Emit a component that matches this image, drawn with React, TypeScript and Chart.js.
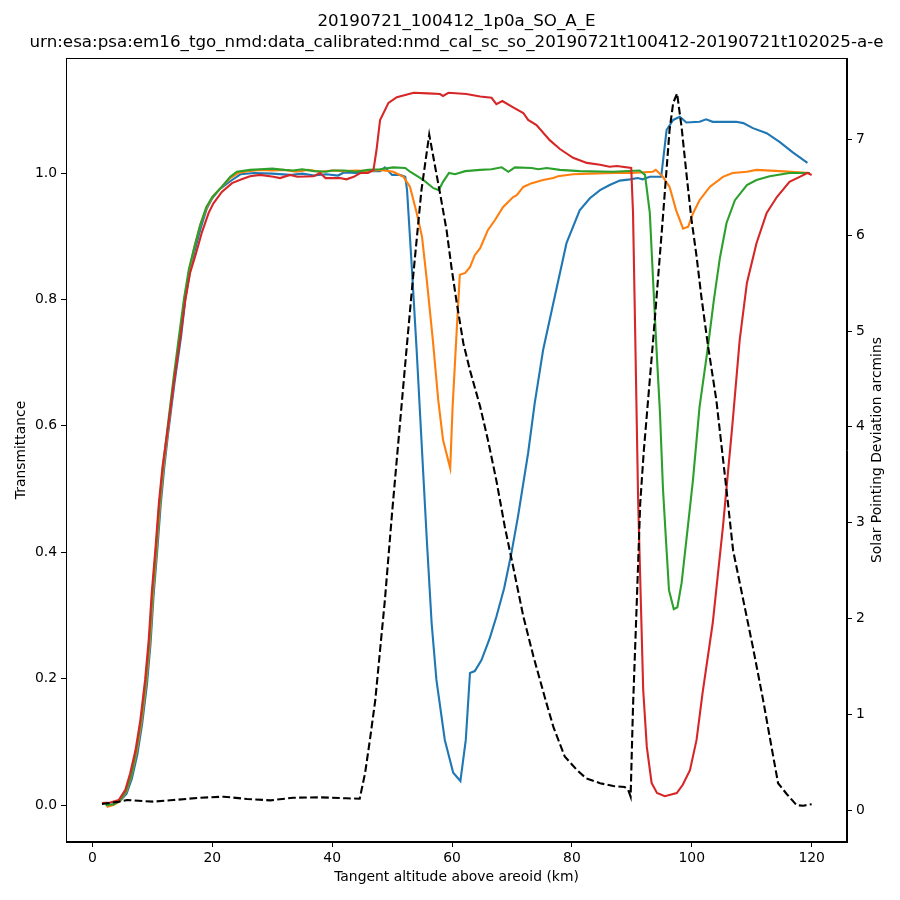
import React, { useEffect, useRef } from 'react';
import { Chart, registerables } from 'chart.js';

Chart.register(...registerables);

const titleLines = [
  '20190721_100412_1p0a_SO_A_E',
  'urn:esa:psa:em16_tgo_nmd:data_calibrated:nmd_cal_sc_so_20190721t100412-20190721t102025-a-e',
];

const xTicks = [0, 20, 40, 60, 80, 100, 120];
const yTicks = [0, 0.2, 0.4, 0.6, 0.8, 1.0];
const y2Ticks = [0, 1, 2, 3, 4, 5, 6, 7];

// transmittance, bin 1 (blue)
const blueAlt = [2.3, 3.5, 4.6, 5.7, 6.6, 7.5, 8.3, 9.1, 9.7, 10.2, 10.8, 11.4, 12.0, 12.6, 13.7, 14.8, 15.5, 16.3, 17.1, 18.1, 19.1, 20, 21.2, 23, 24.7, 27, 30, 33, 35, 37, 39, 41, 42, 44, 46, 48, 48.8, 50, 51.3, 52.2, 52.5, 53.3, 54.1, 54.9, 55.8, 56.6, 57.4, 58.8, 60.2, 61.4, 62.3, 63, 63.8, 64.9, 66.3, 67.4, 68.7, 69.9, 71, 72.7, 73.8, 75.2, 76.9, 79.1, 81.3, 83, 84.7, 86.3, 88, 89.7, 91, 91.8, 93, 94.9, 95.8, 96.9, 98, 99.1, 101.3, 102.4, 103.5, 107.4, 108.6, 110.2, 112.5, 114.7, 116.8, 119.3];
const blueT = [-0.001, 0.001, 0.006, 0.018, 0.042, 0.08, 0.128, 0.19, 0.255, 0.33, 0.4, 0.475, 0.535, 0.585, 0.668, 0.741, 0.8, 0.845, 0.878, 0.914, 0.944, 0.96, 0.974, 0.987, 0.998, 1.0, 0.999, 0.997, 0.999, 0.996, 0.998, 0.996, 1.001, 1.0, 1.003, 1.003, 1.009, 0.997, 0.997, 0.994, 0.973, 0.85, 0.72, 0.578, 0.419, 0.288, 0.198, 0.103, 0.051, 0.038, 0.103, 0.209, 0.212, 0.229, 0.264, 0.298, 0.343, 0.398, 0.456, 0.557, 0.636, 0.72, 0.794, 0.889, 0.941, 0.96, 0.973, 0.981, 0.988, 0.99, 0.992, 0.99, 0.994, 0.994, 1.068, 1.084, 1.089, 1.08, 1.081, 1.085, 1.081, 1.081, 1.079, 1.071, 1.063, 1.049, 1.033, 1.016];

// bin 2 (orange)
const orangeAlt = [2.4, 3.5, 4.6, 5.7, 6.5, 7.4, 8.2, 9, 9.6, 10.1, 10.7, 11.3, 11.9, 12.5, 13.6, 14.6, 15.4, 16.2, 17, 18, 19.1, 20.1, 21.3, 23, 24.3, 26, 28, 30, 32, 34, 36, 38, 40, 42, 44, 46, 48, 50.2, 51.9, 53, 54.1, 55, 55.8, 56.8, 57.7, 58.5, 59.7, 60.1, 60.7, 61.3, 62.2, 63, 63.8, 64.7, 66, 67.2, 68.5, 70.2, 70.8, 71.9, 73.3, 75.2, 76.9, 77.7, 80.2, 83, 86.8, 90, 93.5, 94, 95.2, 96.3, 97.4, 98.55, 99.4, 100.2, 101.3, 103, 105.2, 106.8, 109.2, 110.8, 114.7, 119.7];
const orangeT = [-0.003, 0.0, 0.006, 0.022, 0.046, 0.085, 0.132, 0.195, 0.258, 0.333, 0.402, 0.478, 0.537, 0.585, 0.672, 0.745, 0.802, 0.848, 0.882, 0.918, 0.946, 0.963, 0.975, 0.992, 1.0, 1.003, 1.005, 1.004, 1.005, 1.002, 1.005, 1.002, 1.004, 1.003, 1.004, 1.003, 1.005, 1.002, 0.994, 0.978, 0.937, 0.899, 0.83, 0.736, 0.641, 0.578, 0.533, 0.63, 0.736, 0.839, 0.842, 0.851, 0.87, 0.881, 0.91, 0.926, 0.946, 0.962, 0.965, 0.978, 0.984, 0.989, 0.992, 0.995, 0.998, 0.999, 1.0, 1.0, 1.002, 1.005, 0.994, 0.978, 0.941, 0.912, 0.915, 0.936, 0.957, 0.978, 0.994, 1.0, 1.002, 1.005, 1.003, 1.0];

// bin 3 (green)
const greenAlt = [2.2, 3.5, 4.6, 5.6, 6.5, 7.3, 8.1, 8.9, 9.5, 10, 10.6, 11.2, 11.8, 12.4, 13.5, 14.5, 15.3, 16.1, 17, 18, 19, 20, 21.3, 23, 24.1, 26.3, 28, 30, 32, 33.5, 35, 37, 39, 40, 42, 44, 46, 48, 50.2, 52.2, 53, 55.2, 56.9, 57.8, 58.5, 59.5, 60.5, 62.2, 64.7, 66.6, 68.3, 69.4, 70.5, 73.3, 74.4, 75.8, 78, 81.3, 86.8, 91.3, 92.2, 93, 93.55, 94.1, 94.7, 95.2, 95.7, 96.2, 97, 97.6, 98.3, 99.1, 100.2, 101.3, 102.7, 103.7, 104.7, 105.8, 107.2, 109.2, 110.8, 113, 116.3, 119.7];
const greenT = [0.0, 0.001, 0.007, 0.022, 0.047, 0.086, 0.133, 0.197, 0.26, 0.334, 0.403, 0.478, 0.537, 0.586, 0.672, 0.745, 0.802, 0.848, 0.882, 0.918, 0.946, 0.962, 0.975, 0.994, 1.002, 1.005, 1.006, 1.007, 1.005, 1.004, 1.006, 1.003, 1.002, 1.004, 1.004, 1.002, 1.005, 1.006, 1.009, 1.008, 1.002, 0.989, 0.976, 0.973, 0.986, 1.0, 0.998, 1.003, 1.005, 1.006, 1.009, 1.002, 1.009, 1.008, 1.006, 1.008, 1.005, 1.003, 1.002, 1.004, 0.997, 0.937, 0.83, 0.725, 0.62, 0.5, 0.419, 0.34, 0.31, 0.313, 0.351, 0.419, 0.514, 0.63, 0.725, 0.8, 0.866, 0.921, 0.957, 0.981, 0.989, 0.995, 1.0, 1.0];

// bin 4 (red)
const redAlt = [1.6, 3, 4.4, 5.5, 6.3, 7.2, 8, 8.8, 9.4, 9.9, 10.5, 11.1, 11.7, 12.4, 13.6, 14.7, 15.5, 16.3, 17.2, 18.3, 19.4, 20.2, 21.6, 23.3, 24.9, 26.3, 28, 30.2, 31.3, 33, 34.2, 36.9, 38, 38.9, 41.3, 42.4, 43.6, 44.7, 46, 46.9, 47.4, 48, 49.4, 50.8, 53.6, 56, 58, 58.5, 59.4, 62.4, 64.7, 66.6, 67.4, 68.4, 70.2, 71.9, 72.7, 74.1, 76.3, 78, 80.2, 82.5, 84.7, 86.3, 87.5, 89.9, 90.2, 90.5, 91.05, 91.9, 92.5, 93.3, 94.2, 95.5, 97.5, 98.5, 99.7, 100.8, 101.8, 103.5, 105.2, 106.8, 108, 109.2, 110.8, 112.5, 114.2, 116.3, 118, 119.3, 120];
const redT = [0.003, 0.004, 0.008, 0.024, 0.05, 0.087, 0.134, 0.198, 0.261, 0.335, 0.403, 0.478, 0.535, 0.583, 0.668, 0.741, 0.799, 0.842, 0.87, 0.907, 0.937, 0.952, 0.97, 0.984, 0.99, 0.995, 0.997, 0.994, 0.992, 0.997, 0.994, 0.995, 1.0, 0.992, 0.992, 0.99, 0.994, 1.0, 1.0, 1.005, 1.036, 1.084, 1.111, 1.12, 1.127, 1.126, 1.125, 1.122, 1.127, 1.125, 1.121, 1.119, 1.109, 1.114, 1.104, 1.095, 1.084, 1.076, 1.052, 1.038, 1.024, 1.016, 1.013, 1.01, 1.011, 1.008, 0.937, 0.78, 0.483, 0.182, 0.092, 0.035, 0.019, 0.014, 0.019, 0.032, 0.055, 0.103, 0.177, 0.288, 0.44, 0.604, 0.736, 0.826, 0.889, 0.937, 0.962, 0.986, 0.994, 1.0, 0.997];

// solar pointing deviation (right axis, arcmins)
const spdAlt = [1.6, 4.4, 5.8, 10.2, 13.5, 18, 21.9, 25.8, 29.7, 33.5, 38, 42.4, 44.6, 45.5, 46.3, 47.2, 48, 48.8, 50, 51.2, 52.4, 53.5, 54.9, 56.2, 57.2, 58, 59.1, 59.9, 60.8, 61.9, 63, 64.7, 66, 67.4, 68.8, 70.2, 71.9, 73.6, 75.6, 76.9, 78.8, 80.8, 82.4, 84.7, 86.9, 88.8, 89.4, 89.8, 90.2, 90.8, 91.4, 92, 93.55, 95.2, 96.3, 96.9, 97.55, 98.3, 99.1, 99.9, 100.8, 101.6, 102.7, 104.1, 105.8, 106.9, 108.6, 110.2, 111.9, 113.3, 114.4, 115.8, 117.5, 118.6, 120];
const spdVal = [0.063, 0.087, 0.104, 0.087, 0.104, 0.128, 0.139, 0.115, 0.101, 0.128, 0.132, 0.122, 0.118, 0.386, 0.73, 1.148, 1.67, 2.19, 3.1, 3.95, 4.8, 5.56, 6.47, 7.05, 6.71, 6.44, 6.05, 5.67, 5.29, 4.87, 4.59, 4.21, 3.86, 3.44, 2.96, 2.54, 2.02, 1.6, 1.15, 0.87, 0.56, 0.42, 0.33, 0.28, 0.25, 0.24, 0.21, 0.14, 1.08, 2.12, 3.2, 3.75, 4.9, 6.2, 7.1, 7.38, 7.48, 7.13, 6.65, 6.19, 5.78, 5.36, 4.85, 4.28, 3.34, 2.71, 2.19, 1.7, 1.15, 0.66, 0.28, 0.17, 0.05, 0.045, 0.06];

const FONT = 'DejaVu Sans';

const pts = (xs: number[], ys: number[]) => xs.map((x, i) => ({ x, y: ys[i] }));

const textPlugin = {
  id: 'mplText',
  afterDraw(chart: Chart) {
    const { ctx, chartArea } = chart;
    const { left, right, top, bottom } = chartArea;
    ctx.save();
    ctx.strokeStyle = '#000';
    ctx.lineWidth = 1;
    ctx.strokeRect(Math.round(left) + 0.5, Math.round(top) + 0.5, Math.round(right - left) - 1, Math.round(bottom - top) - 1);

    ctx.fillStyle = '#000';
    ctx.textAlign = 'center';
    ctx.textBaseline = 'middle';
    const cx = (left + right) / 2;
    ctx.font = `16.7px "${FONT}"`;
    ctx.fillText(titleLines[0], cx, 22);
    ctx.fillText(titleLines[1], cx, 43);

    ctx.font = `13.9px "${FONT}"`;
    ctx.fillText('Tangent altitude above areoid (km)', cx, 877);

    ctx.save();
    ctx.translate(21, (top + bottom) / 2);
    ctx.rotate(-Math.PI / 2);
    ctx.fillText('Transmittance', 0, 0);
    ctx.restore();

    ctx.save();
    ctx.translate(877, (top + bottom) / 2);
    ctx.rotate(-Math.PI / 2);
    ctx.fillText('Solar Pointing Deviation arcmins', 0, 0);
    ctx.restore();
    ctx.restore();
  },
};

const App: React.FC = () => {
  const chartRef = useRef<HTMLCanvasElement>(null);
  const chartInstance = useRef<Chart | null>(null);

  useEffect(() => {
    if (!chartRef.current) return;
    if (chartInstance.current) chartInstance.current.destroy();
    const ctx = chartRef.current.getContext('2d');
    if (!ctx) return;

    const line = (label: string, data: { x: number; y: number }[], color: string, axis: string, dashed = false) => ({
      label,
      data,
      borderColor: color,
      backgroundColor: color,
      borderWidth: 2.1,
      borderDash: dashed ? [7.7, 3.3] : [],
      pointRadius: 0,
      tension: 0,
      fill: false,
      yAxisID: axis,
    });

    const tickFont = { family: FONT, size: 13.9 };
    const gridOpts = { drawOnChartArea: false, drawTicks: true, tickLength: 5, tickColor: '#000', color: '#000' };

    chartInstance.current = new Chart(ctx, {
      type: 'line',
      data: {
        datasets: [
          // first dataset is drawn on top
          line('Solar pointing deviation', pts(spdAlt, spdVal), '#000000', 'y1', true),
          line('Bin 4', pts(redAlt, redT), '#d62728', 'y'),
          line('Bin 3', pts(greenAlt, greenT), '#2ca02c', 'y'),
          line('Bin 2', pts(orangeAlt, orangeT), '#ff7f0e', 'y'),
          line('Bin 1', pts(blueAlt, blueT), '#1f77b4', 'y'),
        ],
      },
      options: {
        responsive: false,
        animation: false,
        layout: { padding: { top: 58, left: 0, right: 0, bottom: 0 } },
        plugins: {
          legend: { display: false },
          title: { display: false },
          tooltip: { enabled: false },
        },
        scales: {
          x: {
            type: 'linear',
            position: 'bottom',
            min: -4.4,
            max: 125.9,
            afterFit: (s: any) => { s.height = 58; },
            afterBuildTicks: (s: any) => { s.ticks = xTicks.map((v) => ({ value: v })); },
            ticks: { font: tickFont, color: '#000', padding: 3, maxRotation: 0, callback: (v: any) => String(v) },
            grid: gridOpts,
            border: { color: '#000', width: 1 },
          },
          y: {
            type: 'linear',
            position: 'left',
            min: -0.0585,
            max: 1.182,
            afterFit: (s: any) => { s.width = 66; },
            afterBuildTicks: (s: any) => { s.ticks = yTicks.map((v) => ({ value: v })); },
            ticks: { font: tickFont, color: '#000', padding: 4, callback: (v: any) => Number(v).toFixed(1) },
            grid: gridOpts,
            border: { color: '#000', width: 1 },
          },
          y1: {
            type: 'linear',
            position: 'right',
            min: -0.334,
            max: 7.85,
            afterFit: (s: any) => { s.width = 53; },
            afterBuildTicks: (s: any) => { s.ticks = y2Ticks.map((v) => ({ value: v })); },
            ticks: { font: tickFont, color: '#000', padding: 4, callback: (v: any) => String(v) },
            grid: gridOpts,
            border: { color: '#000', width: 1 },
          },
        },
      },
      plugins: [textPlugin],
    } as any);

    return () => {
      if (chartInstance.current) {
        chartInstance.current.destroy();
        chartInstance.current = null;
      }
    };
  }, []);

  return (
    <div style={{ position: 'absolute', left: 0, top: 0, width: 900, height: 900, background: '#fff' }}>
      <canvas ref={chartRef} width={900} height={900} />
    </div>
  );
};

export default App;
